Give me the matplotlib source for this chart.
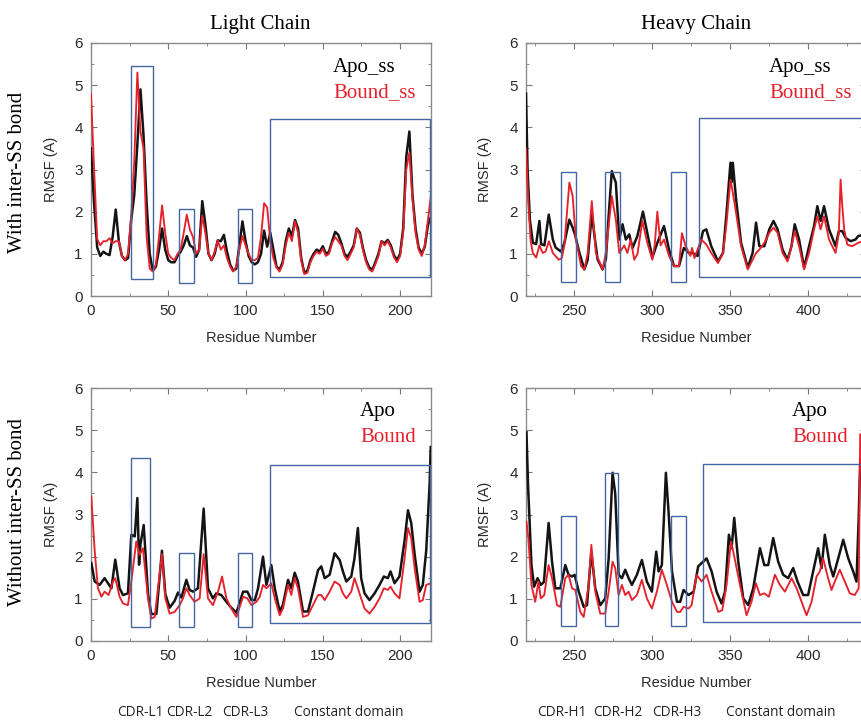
import matplotlib.pyplot as plt
from matplotlib.patches import Rectangle
from matplotlib.ticker import MultipleLocator
import numpy as np

# ---- light chain, with inter-SS bond (every 2nd residue, 0..220) ----
light_ss_res = np.arange(0, 221, 2)
light_apo_ss = [3.5, 2.2, 1.15, 0.95, 1.05, 1.0, 0.97, 1.4, 2.05, 1.3,
                0.95, 0.85, 0.9, 1.8, 2.4, 3.6, 4.9, 3.8, 2.2, 1.0,
                0.6, 0.7, 1.1, 1.6, 1.1, 0.85, 0.8, 0.8, 0.95, 1.05,
                1.2, 1.42, 1.2, 1.15, 0.93, 1.1, 2.25, 1.7, 1.0, 0.85,
                1.0, 1.32, 1.3, 1.45, 1.05, 0.75, 0.6, 0.65, 1.2, 1.77,
                1.3, 0.95, 0.8, 0.75, 0.8, 1.0, 1.55, 1.17, 1.5, 1.1,
                0.7, 0.62, 0.8, 1.3, 1.6, 1.42, 1.8, 1.6, 0.9, 0.55,
                0.6, 0.85, 1.0, 1.1, 1.05, 1.18, 1.0, 1.05, 1.3, 1.52,
                1.45, 1.25, 1.0, 0.93, 1.05, 1.2, 1.6, 1.5, 1.13, 0.85,
                0.68, 0.62, 0.8, 1.0, 1.3, 1.25, 1.33, 1.2, 0.97, 0.85,
                1.0, 1.6, 3.3, 3.9, 2.4, 1.6, 1.15, 1.0, 1.17, 1.68,
                1.88]
light_bound_ss = [4.8, 3.0, 1.35, 1.2, 1.3, 1.3, 1.37, 1.25, 1.3, 1.3,
                  0.95, 0.85, 1.0, 1.9, 3.2, 5.3, 3.9, 3.5, 1.4, 0.65,
                  0.58, 0.75, 1.4, 2.15, 1.5, 1.0, 0.9, 0.85, 1.0, 1.1,
                  1.5, 1.93, 1.57, 1.4, 1.0, 1.1, 1.9, 1.5, 1.0, 0.85,
                  1.05, 1.32, 1.1, 1.2, 0.9, 0.7, 0.58, 0.7, 1.1, 1.42,
                  1.2, 1.0, 0.85, 0.85, 0.9, 1.4, 2.2, 2.1, 1.3, 0.9,
                  0.68, 0.58, 0.75, 1.2, 1.5, 1.3, 1.77, 1.5, 0.85, 0.52,
                  0.55, 0.8, 0.95, 1.05, 1.0, 1.12, 0.95, 1.0, 1.25, 1.4,
                  1.3, 1.2, 0.95, 0.85, 1.0, 1.15, 1.6, 1.45, 1.08, 0.8,
                  0.63, 0.58, 0.75, 0.95, 1.3, 1.2, 1.3, 1.15, 0.92, 0.8,
                  0.95, 1.5, 3.0, 3.4, 2.3, 1.5, 1.1, 0.95, 1.2, 1.8,
                  2.4]

# ---- heavy chain, with inter-SS bond: (residue, RMSF) ----
heavy_apo_ss = [(219, 4.8), (220, 3.0), (221.5, 1.8), (223.4, 1.26), (225.5, 1.23),
                (227.6, 1.78), (228.7, 1.23), (230.8, 1.2), (233.6, 1.93), (236.2, 1.34),
                (238, 1.15), (241.5, 1.05), (243.6, 1.26), (246.8, 1.81), (248.9, 1.62),
                (250.4, 1.46), (253.2, 1.03), (256.4, 0.63), (258.5, 0.85), (261.2, 1.95),
                (263, 1.4), (264.9, 0.87), (268.1, 0.63), (270.2, 0.87), (272, 1.9),
                (274, 2.96), (275.5, 2.8), (276.6, 2.69), (278.8, 1.34), (280.9, 1.7),
                (283, 1.34), (285.2, 1.46), (287.3, 1.14), (290.4, 1.42), (294, 2.0),
                (296.8, 1.49), (300, 0.91), (303.2, 1.26), (307.5, 1.66), (310.7, 1.1),
                (313.9, 0.71), (317.1, 0.71), (320.2, 1.14), (323.4, 1.02), (326, 1.02),
                (329, 0.95), (332.5, 1.54), (334.6, 1.58), (337.8, 1.18), (342.1, 0.82),
                (345.3, 1.02), (347.4, 1.89), (350.1, 3.16), (350.8, 2.7), (351.6, 3.16),
                (353.7, 2.29), (356.9, 1.26), (361.2, 0.67), (364.3, 1.02), (366.5, 1.74),
                (368.6, 1.18), (371.8, 1.18), (375, 1.58), (377.7, 1.78), (380.3, 1.58),
                (383.5, 1.1), (386.7, 0.86), (389.2, 1.18), (391.3, 1.70), (394.1, 1.34),
                (397.3, 0.67), (400.5, 1.18), (403.7, 1.66), (405.8, 2.13), (407.9, 1.78),
                (410.1, 2.13), (413.3, 1.58), (417.5, 1.18), (419.6, 1.54), (421.8, 1.54),
                (423.9, 1.38), (427.1, 1.30), (430.3, 1.34), (432, 1.42), (435, 1.45),
                (438, 1.5)]
heavy_bound_ss = [(219, 3.5), (220.5, 2.2), (222, 1.3), (223.4, 1.02), (225.5, 0.91),
                  (227.6, 1.2), (229.7, 1.02), (231.5, 1.05), (233.7, 1.3), (236.2, 1.02),
                  (240, 0.86), (242, 0.9), (243.6, 1.2), (246.8, 2.69), (248.9, 2.37),
                  (251, 1.34), (254.3, 0.71), (256.4, 0.63), (258.5, 1.0), (261.2, 2.25),
                  (263.8, 1.02), (268.1, 0.63), (270.2, 1.02), (274, 2.37), (276.6, 1.81),
                  (278.8, 1.02), (282, 1.2), (284, 1.02), (286.2, 1.34), (288.4, 0.86),
                  (290.5, 1.0), (293.6, 1.78), (296.8, 1.26), (300, 0.86), (301.5, 1.2),
                  (303.2, 2.0), (305.3, 1.2), (307.5, 1.34), (310.7, 0.95), (313.9, 0.71),
                  (317.1, 0.71), (319, 1.49), (321.2, 1.2), (324.4, 0.95), (325.5, 1.14),
                  (327, 0.9), (331.4, 1.34), (334.6, 1.22), (337.8, 1.02), (342.1, 0.78),
                  (345.3, 1.02), (347.4, 1.66), (350.1, 2.76), (351.6, 2.45), (353.7, 1.97),
                  (356.9, 1.18), (361.2, 0.63), (364.3, 0.86), (366.5, 1.02), (368.6, 1.1),
                  (371.8, 1.26), (375, 1.5), (377.7, 1.62), (380.3, 1.5), (383.5, 1.02),
                  (386.7, 0.82), (389.2, 1.18), (391.3, 1.54), (394.1, 1.18), (397.3, 0.63),
                  (400.5, 1.02), (403.7, 1.58), (405.8, 1.89), (407.9, 1.58), (410.1, 1.89),
                  (413.3, 1.34), (417.5, 1.02), (419.6, 1.5), (420.7, 2.76), (421.8, 2.13),
                  (423, 1.58), (425, 1.22), (428, 1.18), (432, 1.26), (435, 1.3), (438, 1.35)]

# ---- light chain, without inter-SS bond ----
light_apo = [(0.2, 1.85), (2.4, 1.41), (5.6, 1.33), (8.8, 1.49), (11, 1.37), (13.2, 1.25),
             (15.7, 1.93), (18.5, 1.25), (20.7, 1.09), (23.9, 1.13), (26.1, 2.52), (28.3, 2.48),
             (30, 3.39), (31.1, 1.81), (32, 2.3), (34.1, 2.75), (36.9, 1.11), (39, 0.64),
             (42.3, 0.64), (45.9, 2.14), (48.1, 1.11), (50.9, 0.79), (54.1, 0.95), (56.3, 1.15),
             (58.5, 1.03), (61.7, 1.45), (63.8, 1.21), (66, 1.17), (69.2, 1.25), (72.9, 3.14),
             (75.7, 1.25), (78.9, 1.01), (81.1, 1.13), (84.3, 1.09), (87.6, 0.93), (90.8, 0.79),
             (94.1, 0.67), (98.4, 1.17), (101.2, 1.17), (103.8, 0.97), (106, 0.97), (108.1, 1.25),
             (111.3, 2.0), (113.5, 1.33), (116.7, 1.8), (118.9, 1.25), (122.1, 0.7), (124.2, 0.86),
             (127.5, 1.45), (129.6, 1.25), (131.8, 1.62), (133.9, 1.41), (137.2, 0.7), (140.4, 0.7),
             (143.6, 1.17), (146.9, 1.68), (149, 1.77), (151.2, 1.49), (154.4, 1.57), (157.6, 2.08),
             (160.9, 1.92), (163, 1.65), (165.2, 1.41), (168.4, 1.53), (170.5, 1.96), (172.7, 2.68),
             (174.8, 1.49), (177, 1.13), (180.2, 0.97), (183.5, 1.13), (186.7, 1.33), (189.5, 1.53),
             (192.1, 1.49), (193.8, 1.65), (196.4, 1.37), (199.6, 1.53), (202.9, 2.38), (205.1, 3.1),
             (207.2, 2.8), (209.4, 2.06), (212.6, 1.17), (214.7, 1.33), (216.9, 2.14), (219.1, 3.72),
             (219.8, 4.6)]
light_bound = [(0.2, 3.43), (2.4, 2.13), (4.5, 1.25), (6.7, 1.05), (8.8, 1.17), (11.4, 1.09),
               (14.2, 1.41), (15.7, 1.49), (18.5, 1.05), (20.7, 0.89), (23.9, 0.85), (26.1, 1.41),
               (29.3, 2.36), (31.5, 2.04), (33.6, 2.2), (36.9, 1.01), (39, 0.53), (41.2, 0.57),
               (45.9, 2.06), (48.1, 1.01), (50.9, 0.65), (54.1, 0.69), (57.4, 0.85), (59.5, 1.01),
               (61.7, 1.25), (63.8, 1.09), (67, 0.93), (70.3, 1.01), (72.9, 2.06), (75.7, 1.01),
               (78.9, 0.85), (82.2, 1.17), (84.8, 1.53), (87.6, 1.01), (90.8, 0.77), (94.1, 0.57),
               (98.4, 1.05), (101.2, 1.01), (103.8, 0.85), (107, 0.93), (109.2, 1.05), (111.3, 1.33),
               (113.5, 1.25), (116.7, 1.37), (118.9, 1.01), (122.1, 0.61), (124.2, 0.77), (127.5, 1.33),
               (129.6, 1.09), (131.8, 1.49), (133.9, 1.25), (137.2, 0.57), (140.4, 0.61), (143.6, 0.85),
               (146.9, 1.09), (149, 1.09), (151.2, 0.97), (154.4, 1.17), (157.6, 1.41), (160.9, 1.33),
               (163, 1.13), (165.2, 1.01), (168.4, 1.17), (170.5, 1.49), (172.7, 1.25), (174.8, 1.01),
               (177, 0.77), (180.2, 0.65), (183.5, 0.81), (186.7, 1.01), (189.5, 1.25), (192.1, 1.21),
               (193.8, 1.29), (196.4, 1.13), (199.6, 1.01), (202.9, 1.96), (205.1, 2.68), (207.2, 2.44),
               (209.4, 1.73), (212.6, 0.93), (214.7, 0.97), (216.9, 1.33), (219.9, 1.37)]

# ---- heavy chain, without inter-SS bond ----
heavy_apo = [(219.3, 4.95), (220.3, 3.71), (222.5, 1.8), (224.2, 1.29), (226.4, 1.49), (228.5, 1.33),
             (230.5, 1.4), (233.5, 2.8), (235.7, 1.88), (237.8, 1.25), (241, 1.25), (244.2, 1.8),
             (246.3, 1.57), (248.5, 1.53), (250.2, 1.57), (252.8, 1.17), (256, 0.81), (258.1, 0.85),
             (260.9, 2.12), (263.4, 1.25), (266.6, 0.85), (269.8, 1.01), (272, 1.96), (274.5, 3.99),
             (276.2, 3.5), (278.4, 1.57), (280.5, 1.49), (282.6, 1.69), (284.8, 1.49), (286.9, 1.33),
             (290.1, 1.57), (293.3, 1.92), (296.5, 1.41), (299.7, 1.17), (302.5, 2.12), (304, 1.65),
             (306.1, 1.8), (308.7, 3.99), (310.4, 3.07), (312.6, 1.65), (315.8, 0.93), (317.9, 0.93),
             (320, 1.21), (323.2, 1.09), (326.5, 1.17), (329.4, 1.77), (334.8, 1.96), (338, 1.65),
             (341.2, 1.17), (344.4, 0.89), (346.6, 1.17), (349.1, 2.52), (350.8, 2.2), (352.5, 2.92),
             (355.1, 1.88), (358.3, 1.01), (361.5, 0.85), (364.7, 1.25), (369, 2.2), (371.8, 1.8),
             (374.3, 1.8), (377.5, 2.44), (380.7, 1.88), (383.9, 1.57), (387.1, 1.49), (390.3, 1.73),
             (393.1, 1.41), (396.7, 1.09), (399.9, 1.09), (403.1, 1.65), (406.3, 2.2), (408.5, 1.73),
             (410.6, 2.52), (413.8, 1.8), (416, 1.53), (419.2, 1.96), (422.4, 2.4), (425.6, 1.96),
             (428.8, 1.65), (430.9, 1.41), (432.3, 2.9), (433.3, 4.3)]
heavy_bound = [(219.3, 2.83), (220.5, 2.44), (222.5, 1.33), (224.9, 0.93), (227, 1.41), (228.5, 1.01),
               (230.7, 1.09), (233.5, 1.8), (235.7, 1.49), (238.9, 0.85), (241, 0.81), (244.2, 1.49),
               (246.3, 1.57), (248.5, 1.25), (250.6, 1.21), (253.8, 0.69), (256, 0.57), (259.2, 1.33),
               (260.9, 2.28), (263.4, 1.17), (266.6, 0.65), (269.8, 0.65), (272, 1.17), (274.5, 1.88),
               (276.2, 1.73), (278.4, 1.09), (280.5, 1.33), (282.6, 1.09), (284.8, 1.17), (286.9, 0.97),
               (290.1, 1.09), (293.3, 1.45), (296.5, 1.01), (299.7, 0.77), (302.9, 1.17), (306.1, 1.69),
               (309.3, 1.33), (312.6, 0.93), (315.8, 0.69), (317.9, 0.69), (320, 0.81), (323.2, 0.77),
               (325.2, 0.85), (328.4, 1.57), (331.6, 1.41), (334.8, 1.57), (338, 1.17), (342.3, 0.69),
               (344.8, 0.73), (347.6, 1.33), (350.4, 2.36), (351.9, 2.12), (356.2, 1.33), (360.4, 0.61),
               (363.6, 0.93), (366.4, 1.37), (369, 1.09), (371.8, 1.13), (374.7, 1.05), (378.6, 1.57),
               (381.8, 1.33), (385, 1.17), (389.3, 1.49), (392.5, 1.25), (398.9, 0.61), (402.1, 0.93),
               (405.3, 1.53), (407.4, 1.65), (409.5, 1.96), (412.7, 1.49), (414.9, 1.21), (417, 1.41),
               (420.2, 1.69), (423.4, 1.41), (426.6, 1.13), (429.8, 1.09), (432.3, 1.25), (433.3, 4.9)]

# highlighted regions (x0, x1, y0, y1)
boxes_light_ss = [(26, 40, 0.4, 5.46), (57, 66.7, 0.32, 2.06), (95, 104.4, 0.32, 2.06), (116, 219.5, 0.44, 4.2)]
boxes_heavy_ss = [(241.5, 251, 0.33, 2.95), (269.6, 279.1, 0.33, 2.95), (311.7, 321.3, 0.33, 2.95), (330, 436, 0.45, 4.21)]
boxes_light = [(26, 38.2, 0.34, 4.34), (57, 66.7, 0.34, 2.08), (95, 104.4, 0.34, 2.08), (116, 219.5, 0.42, 4.18)]
boxes_heavy = [(241.2, 250.9, 0.36, 2.97), (269.4, 277.8, 0.36, 3.98), (312, 321.4, 0.36, 2.97), (332.3, 436, 0.44, 4.2)]

W, H = 861, 720
fig = plt.figure(figsize=(W / 100, H / 100), dpi=100)
SERIF = 'Liberation Serif'
SANS = 'Liberation Sans'


def panel(left, top, xlim, xticks):
    ax = fig.add_axes([left / W, 1 - (top + 253) / H, 340 / W, 253 / H])
    ax.set_xlim(*xlim)
    ax.set_ylim(0, 6)
    ax.set_xticks(xticks)
    ax.set_yticks(range(7))
    ax.xaxis.set_minor_locator(MultipleLocator(25))
    ax.yaxis.set_minor_locator(MultipleLocator(0.5))
    ax.tick_params(which='both', direction='in', top=True, right=True, color='#777',
                   labelcolor='#2a2a2a', labelsize=11, pad=6)
    ax.tick_params(which='major', length=4)
    ax.tick_params(which='minor', length=2)
    for lab in ax.get_xticklabels() + ax.get_yticklabels():
        lab.set_fontfamily(SANS)
    for s in ax.spines.values():
        s.set_color('#8a8a8a')
        s.set_linewidth(1.0)
    ax.set_xlabel('Residue Number', fontsize=10.5, family=SANS, color='#2a2a2a', labelpad=9)
    ax.set_ylabel('RMSF (A)', fontsize=10.5, family=SANS, color='#2a2a2a', labelpad=12)
    return ax


def draw(ax, apo, bound, boxes, labels, lx):
    ax.plot(apo[0], apo[1], color='#141414', lw=1.8, zorder=3, solid_joinstyle='round')
    ax.plot(bound[0], bound[1], color='#e5222c', lw=1.35, zorder=4, solid_joinstyle='round')
    for x0, x1, y0, y1 in boxes:
        ax.add_patch(Rectangle((x0, y0), x1 - x0, y1 - y0, fill=False,
                               edgecolor='#4467a3', lw=1.0, zorder=5, clip_on=False))
    ax.text(lx, labels[2], labels[0], transform=ax.transAxes, family=SERIF,
            fontsize=15, color='black', va='baseline')
    ax.text(lx, labels[3], labels[1], transform=ax.transAxes, family=SERIF,
            fontsize=15, color='#e5222c', va='baseline')


def unzip(pairs):
    arr = np.array(pairs)
    return arr[:, 0], arr[:, 1]


ax1 = panel(91, 43, (0, 220), [0, 50, 100, 150, 200])
draw(ax1, (light_ss_res, light_apo_ss), (light_ss_res, light_bound_ss), boxes_light_ss,
     ('Apo_ss', 'Bound_ss', 0.887, 0.785), 0.712)

ax2 = panel(526, 43, (219, 437), [250, 300, 350, 400])
draw(ax2, unzip(heavy_apo_ss), unzip(heavy_bound_ss), boxes_heavy_ss,
     ('Apo_ss', 'Bound_ss', 0.887, 0.785), 0.715)

ax3 = panel(91, 388, (0, 220), [0, 50, 100, 150, 200])
draw(ax3, unzip(light_apo), unzip(light_bound), boxes_light,
     ('Apo', 'Bound', 0.889, 0.788), 0.791)

ax4 = panel(526, 388, (219, 437), [250, 300, 350, 400])
draw(ax4, unzip(heavy_apo), unzip(heavy_bound), boxes_heavy,
     ('Apo', 'Bound', 0.889, 0.788), 0.783)

fig.text(260 / W, 1 - 29 / H, 'Light Chain', family=SERIF, fontsize=15, ha='center', va='baseline')
fig.text(696 / W, 1 - 29 / H, 'Heavy Chain', family=SERIF, fontsize=15, ha='center', va='baseline')
fig.text(18 / W, 1 - 172 / H, 'With inter-SS bond', family=SERIF, fontsize=15,
         rotation=90, ha='center', va='center')
fig.text(18 / W, 1 - 512 / H, 'Without inter-SS bond', family=SERIF, fontsize=15,
         rotation=90, ha='center', va='center')

region_labels = [('CDR-L1', 117), ('CDR-L2', 166), ('CDR-L3', 222), ('Constant domain', 294),
                 ('CDR-H1', 537), ('CDR-H2', 593), ('CDR-H3', 652), ('Constant domain', 726)]
for text, x in region_labels:
    fig.text(x / W, 1 - 716 / H, text, family='Open Sans', fontsize=9.8, color='#222',
             ha='left', va='baseline')

fig.savefig('out.png', dpi=100)
